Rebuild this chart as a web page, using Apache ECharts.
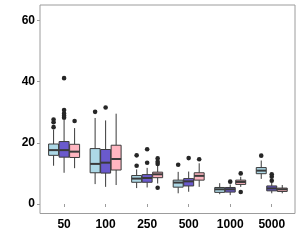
<!DOCTYPE html>
<html>
<head>
<meta charset="utf-8">
<script src="https://cdn.jsdelivr.net/npm/echarts@6/dist/echarts.min.js"></script>
<style>html,body{margin:0;padding:0;background:#fff;}#c{width:301px;height:251px;}</style>
</head>
<body>
<div id="c"></div>
<script>
const categories = ['50', '100', '250', '500', '1000', '5000'];
const yTicks = [0, 20, 40, 60];
// [min, Q1, median, Q3, max] per category
const boxLightBlue = [
  [12.5, 15.9, 17.6, 19.6, 24.3],
  [6.5, 10.2, 13.1, 18.1, 28.1],
  [5.2, 7.1, 8.3, 9.3, 11.3],
  [3.5, 5.5, 7.0, 7.8, 10.5],
  [3.2, 3.8, 4.8, 5.4, 6.8],
  [8.2, 9.9, 10.9, 11.9, 14.2]
];
const boxSlateBlue = [
  [10.2, 15.3, 17.6, 20.4, 27.5],
  [5.6, 10.1, 13.5, 17.8, 27.3],
  [5.4, 7.1, 8.5, 9.6, 11.8],
  [4.0, 5.9, 7.4, 8.3, 10.6],
  [2.9, 3.9, 4.8, 5.4, 6.4],
  [3.5, 4.3, 5.1, 5.9, 7.0]
];
const boxPink = [
  [11.7, 15.2, 17.1, 19.5, 24.8],
  [6.2, 11.1, 14.7, 19.2, 29.5],
  [6.7, 8.6, 9.7, 10.4, 12.8],
  [5.6, 7.8, 9.2, 10.2, 13.3],
  [5.6, 6.4, 7.2, 7.8, 8.9],
  [3.5, 4.1, 4.8, 5.2, 6.2]
];
// outliers: [category index, value]
const outLightBlue = [[0, 25.1], [0, 26.7], [0, 27.6], [1, 30.1], [2, 12.5], [2, 15.9], [3, 12.8], [5, 15.8]];
const outSlateBlue = [[0, 28.2], [0, 28.8], [0, 29.6], [0, 30.7], [0, 41.1], [1, 31.5], [2, 13.5], [2, 17.9], [3, 15.0], [4, 7.3], [5, 7.6], [5, 8.9], [5, 9.7]];
const outPink = [[0, 27.1], [2, 13.1], [2, 13.8], [2, 14.9], [2, 5.3], [3, 14.6], [4, 10.0], [4, 3.9]];

const groups = [
  { name: 'A', fill: '#ADD8E6', box: boxLightBlue, out: outLightBlue },
  { name: 'B', fill: '#6A5ACD', box: boxSlateBlue, out: outSlateBlue },
  { name: 'C', fill: '#FFB6C1', box: boxPink, out: outPink }
];

const LINE = '#3a3a3a';
const DODGE = 0.253;
const BOXW = 0.24;

function boxRender(gIdx, fill) {
  return function (params, api) {
    const c = api.value(0);
    const bw = api.size([1, 0])[0];
    const xc = api.coord([c, 0])[0] + (gIdx - 1) * bw * DODGE;
    const half = bw * BOXW / 2;
    const yMin = api.coord([c, api.value(1)])[1];
    const yQ1 = api.coord([c, api.value(2)])[1];
    const yMed = api.coord([c, api.value(3)])[1];
    const yQ3 = api.coord([c, api.value(4)])[1];
    const yMax = api.coord([c, api.value(5)])[1];
    return {
      type: 'group',
      children: [
        { type: 'line', shape: { x1: xc, y1: yMax, x2: xc, y2: yQ3 }, style: { stroke: LINE, lineWidth: 1 } },
        { type: 'line', shape: { x1: xc, y1: yQ1, x2: xc, y2: yMin }, style: { stroke: LINE, lineWidth: 1 } },
        { type: 'rect', shape: { x: xc - half, y: yQ3, width: 2 * half, height: yQ1 - yQ3 }, style: { fill: fill, stroke: LINE, lineWidth: 1 } },
        { type: 'line', shape: { x1: xc - half, y1: yMed, x2: xc + half, y2: yMed }, style: { stroke: LINE, lineWidth: 2 } }
      ]
    };
  };
}
function outRender(gIdx) {
  return function (params, api) {
    const c = api.value(0);
    const bw = api.size([1, 0])[0];
    const p = api.coord([c, api.value(1)]);
    return { type: 'circle', shape: { cx: p[0] + (gIdx - 1) * bw * DODGE, cy: p[1], r: 2.3 }, style: { fill: '#262626' } };
  };
}

const series = [];
groups.forEach(function (g, gi) {
  series.push({
    name: g.name, type: 'custom', renderItem: boxRender(gi, g.fill),
    encode: { x: 0, y: [1, 2, 3, 4, 5] },
    data: g.box.map(function (b, i) { return [i + 1].concat(b); }),
    z: 2, silent: true
  });
});
groups.forEach(function (g, gi) {
  series.push({
    name: g.name + ' out', type: 'custom', renderItem: outRender(gi),
    encode: { x: 0, y: 1 },
    data: g.out.map(function (o) { return [o[0] + 1, o[1]]; }),
    z: 3, silent: true
  });
});

const labelFont = { color: '#000', fontFamily: 'Liberation Sans', fontWeight: 'bold', fontSize: 12 };
const chart = echarts.init(document.getElementById('c'), null, { renderer: 'canvas' });
chart.setOption({
  animation: false,
  backgroundColor: '#fff',
  grid: { left: 40, right: 6, top: 5, bottom: 37.5, show: true, borderColor: '#9c9c9c', borderWidth: 1, backgroundColor: 'transparent' },
  xAxis: {
    type: 'value', min: 0.42, max: 6.56,
    axisLine: { show: false }, splitLine: { show: false },
    axisTick: { show: true, length: 3, lineStyle: { color: '#9c9c9c' }, customValues: categories.map(function (c, i) { return i + 1; }) },
    axisLabel: Object.assign({ margin: 5, customValues: categories.map(function (c, i) { return i + 1; }), formatter: function (v) { return categories[Math.round(v) - 1]; } }, labelFont)
  },
  yAxis: {
    type: 'value', min: -3.1, max: 65,
    axisLine: { show: false }, splitLine: { show: false },
    axisTick: { show: true, length: 3, lineStyle: { color: '#9c9c9c' }, customValues: yTicks },
    axisLabel: Object.assign({ margin: 5, customValues: yTicks }, labelFont)
  },
  series: series
});
</script>
</body>
</html>
